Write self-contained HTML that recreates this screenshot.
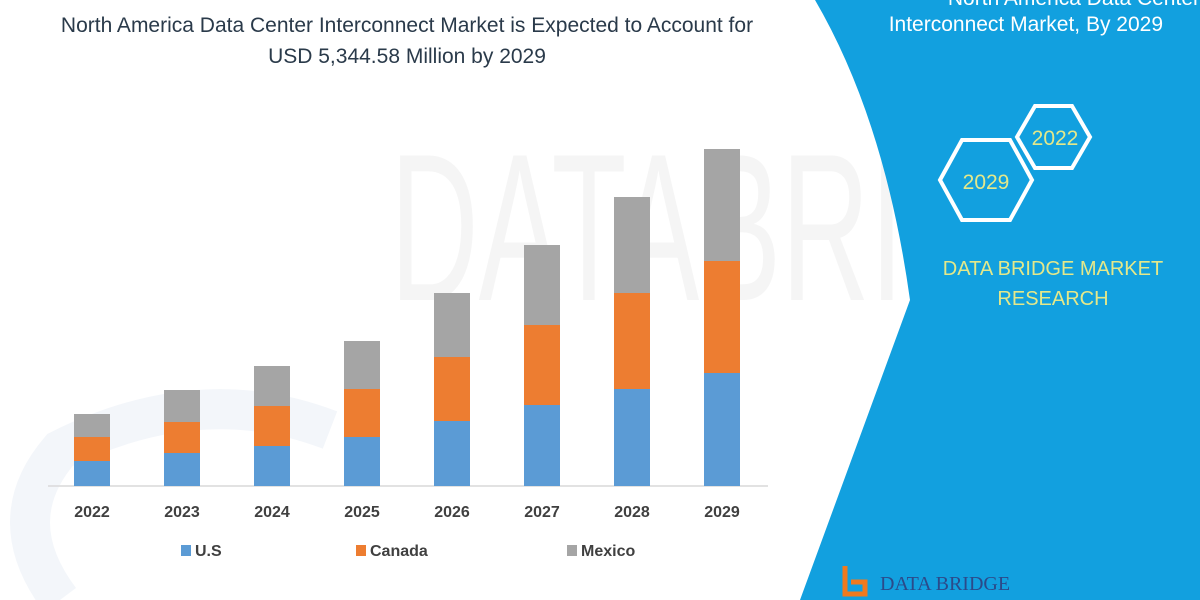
<!DOCTYPE html>
<html><head><meta charset="utf-8"><style>
html,body{margin:0;padding:0;background:#fff;}
body{width:1200px;height:600px;overflow:hidden;position:relative;font-family:"Liberation Sans",sans-serif;}
</style></head><body>
<svg width="1200" height="600" viewBox="0 0 1200 600" xmlns="http://www.w3.org/2000/svg" style="position:absolute;left:0;top:0">
<path d="M60,600 Q0,520 60,450 Q200,380 330,430" fill="none" stroke="#f3f6fa" stroke-width="40"/>
<text x="390" y="300" font-size="210" fill="#f5f5f5" font-family="Liberation Sans" textLength="780" lengthAdjust="spacingAndGlyphs">DATABRIDGE</text>
<path d="M815,0 Q885,120 910,300 L800,600 L1200,600 L1200,0 Z" fill="#12a0df"/>
<text x="1200" y="5" font-size="21" fill="#fff" text-anchor="end">North America Data Center</text>
<text x="1163" y="31" font-size="21" fill="#fff" text-anchor="end">Interconnect Market, By 2029</text>
<polygon points="940,180 962,140 1010,140 1032,180 1010,220 962,220" fill="#12a0df" stroke="#fff" stroke-width="4"/>
<polygon points="1017,137 1035,106 1072,106 1090,137 1072,168 1035,168" fill="#12a0df" stroke="#fff" stroke-width="4"/>
<text x="1055" y="145" font-size="21" fill="#e4e88a" text-anchor="middle">2022</text>
<text x="986" y="189" font-size="21" fill="#e4e88a" text-anchor="middle">2029</text>
<text x="1053" y="275" font-size="20" fill="#e4e88a" text-anchor="middle">DATA BRIDGE MARKET</text>
<text x="1053" y="305" font-size="20" fill="#e4e88a" text-anchor="middle">RESEARCH</text>
<text x="880" y="590" font-size="20" fill="#2b4a8a" font-family="Liberation Serif">DATA BRIDGE</text>
<path d="M845,566 v28 h20 v-12 h-14" fill="none" stroke="#f07a1e" stroke-width="5"/>
<text x="407" y="32" font-size="21" fill="#2a3a4a" text-anchor="middle">North America Data Center Interconnect Market is Expected to Account for</text>
<text x="407" y="63" font-size="21" fill="#2a3a4a" text-anchor="middle">USD 5,344.58 Million by 2029</text>
<line x1="48" y1="486" x2="768" y2="486" stroke="#d9d9d9" stroke-width="1.5"/>
<g>
<rect x="74" y="461" width="36" height="25" fill="#5b9bd5"/><rect x="74" y="437" width="36" height="24" fill="#ed7d31"/><rect x="74" y="414" width="36" height="23" fill="#a5a5a5"/>
<rect x="164" y="453" width="36" height="33" fill="#5b9bd5"/><rect x="164" y="422" width="36" height="31" fill="#ed7d31"/><rect x="164" y="390" width="36" height="32" fill="#a5a5a5"/>
<rect x="254" y="446" width="36" height="40" fill="#5b9bd5"/><rect x="254" y="406" width="36" height="40" fill="#ed7d31"/><rect x="254" y="366" width="36" height="40" fill="#a5a5a5"/>
<rect x="344" y="437" width="36" height="49" fill="#5b9bd5"/><rect x="344" y="389" width="36" height="48" fill="#ed7d31"/><rect x="344" y="341" width="36" height="48" fill="#a5a5a5"/>
<rect x="434" y="421" width="36" height="65" fill="#5b9bd5"/><rect x="434" y="357" width="36" height="64" fill="#ed7d31"/><rect x="434" y="293" width="36" height="64" fill="#a5a5a5"/>
<rect x="524" y="405" width="36" height="81" fill="#5b9bd5"/><rect x="524" y="325" width="36" height="80" fill="#ed7d31"/><rect x="524" y="245" width="36" height="80" fill="#a5a5a5"/>
<rect x="614" y="389" width="36" height="97" fill="#5b9bd5"/><rect x="614" y="293" width="36" height="96" fill="#ed7d31"/><rect x="614" y="197" width="36" height="96" fill="#a5a5a5"/>
<rect x="704" y="373" width="36" height="113" fill="#5b9bd5"/><rect x="704" y="261" width="36" height="112" fill="#ed7d31"/><rect x="704" y="149" width="36" height="112" fill="#a5a5a5"/>
</g>
<g font-size="16" font-weight="bold" fill="#404040" text-anchor="middle">
<text x="92" y="517">2022</text><text x="182" y="517">2023</text><text x="272" y="517">2024</text><text x="362" y="517">2025</text>
<text x="452" y="517">2026</text><text x="542" y="517">2027</text><text x="632" y="517">2028</text><text x="722" y="517">2029</text>
</g>
<g font-size="16" font-weight="bold" fill="#404040">
<rect x="181" y="545" width="10" height="11" fill="#5b9bd5"/><text x="195" y="556">U.S</text>
<rect x="356" y="545" width="10" height="11" fill="#ed7d31"/><text x="370" y="556">Canada</text>
<rect x="567" y="545" width="10" height="11" fill="#a5a5a5"/><text x="581" y="556">Mexico</text>
</g>
</svg>
</body></html>
